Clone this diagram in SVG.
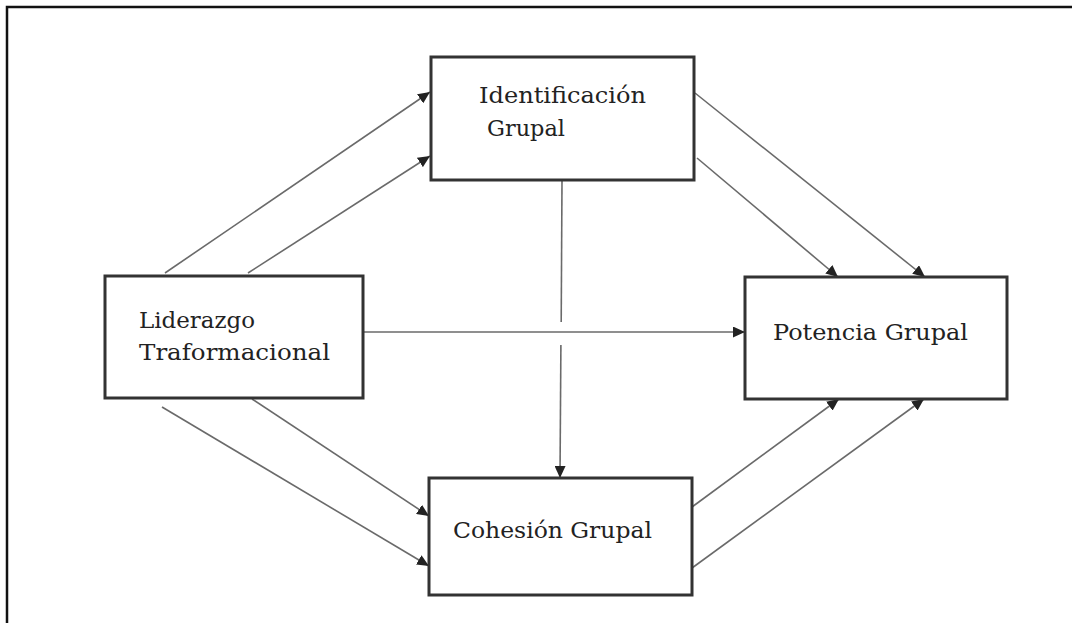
<svg xmlns="http://www.w3.org/2000/svg" width="1072" height="623" viewBox="0 0 1072 623">
  <defs>
    <marker id="arr" markerUnits="userSpaceOnUse" markerWidth="13" markerHeight="11" refX="12" refY="5.5" orient="auto">
      <path d="M0,0 L12,5.5 L0,11 Z" fill="#222"/>
    </marker>
    <style>
      .box { fill: #fff; stroke: #333; stroke-width: 3; }
      .lbl { font-family: "DejaVu Serif", "Liberation Serif", serif; font-size: 22px; fill: #222; }
      .con { stroke: #6a6a6a; stroke-width: 1.6; fill: none; }
      .arrow { marker-end: url(#arr); }
      .frame { stroke: #111; stroke-width: 2.5; fill: none; }
    </style>
  </defs>
  <rect width="1072" height="623" fill="#fff"/>
  <path class="frame" d="M7,623 L7,7 L1072,7"/>

  <g id="connectors">
    <line class="con arrow" x1="165" y1="273" x2="430" y2="92"/>
    <line class="con arrow" x1="248" y1="273" x2="430" y2="156"/>
    <line class="con arrow" x1="695" y1="93" x2="925" y2="277"/>
    <line class="con arrow" x1="697" y1="158" x2="838" y2="277"/>
    <line class="con arrow" x1="162" y1="407" x2="429" y2="566"/>
    <line class="con arrow" x1="252" y1="399" x2="429" y2="516"/>
    <line class="con arrow" x1="692" y1="507" x2="839" y2="399"/>
    <line class="con arrow" x1="692" y1="568" x2="924" y2="399"/>
    <line class="con arrow" x1="363" y1="332" x2="745" y2="332"/>
    <line class="con" x1="562" y1="181" x2="561.2" y2="322"/>
    <line class="con arrow" x1="560.9" y1="345" x2="560" y2="478"/>
  </g>

  <g id="identificacion">
    <rect class="box" x="431" y="57" width="263" height="123"/>
    <text class="lbl" x="479" y="103" textLength="167" lengthAdjust="spacingAndGlyphs">Identificación</text>
    <text class="lbl" x="487" y="136" textLength="78" lengthAdjust="spacingAndGlyphs">Grupal</text>
  </g>
  <g id="liderazgo">
    <rect class="box" x="105" y="276" width="258" height="122"/>
    <text class="lbl" x="139" y="328" textLength="116" lengthAdjust="spacingAndGlyphs">Liderazgo</text>
    <text class="lbl" x="139" y="360" textLength="191" lengthAdjust="spacingAndGlyphs">Traformacional</text>
  </g>
  <g id="potencia">
    <rect class="box" x="745" y="277" width="262" height="122"/>
    <text class="lbl" x="773" y="340" textLength="195" lengthAdjust="spacingAndGlyphs">Potencia Grupal</text>
  </g>
  <g id="cohesion">
    <rect class="box" x="429" y="478" width="263" height="117"/>
    <text class="lbl" x="453" y="538" textLength="199" lengthAdjust="spacingAndGlyphs">Cohesión Grupal</text>
  </g>
</svg>
